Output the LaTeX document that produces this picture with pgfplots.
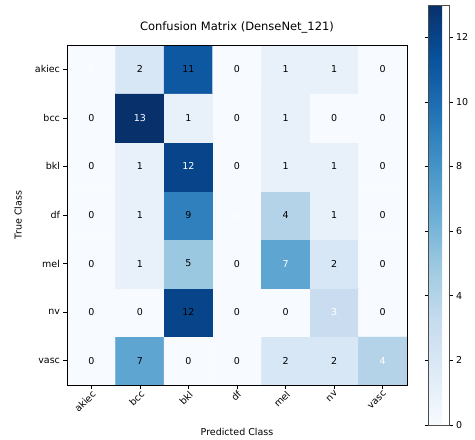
\documentclass[border=0pt]{standalone}
\usepackage{pgfplots}
\pgfplotsset{compat=1.18}
\usepackage{pgfplotstable}
\usepackage{fontspec}
\setmainfont{DejaVu Sans}

% rows: true class (akiec at y=6 ... vasc at y=0), x: predicted class
\pgfplotstableread{
x y c
0 0 0
1 0 7
2 0 0
3 0 0
4 0 2
5 0 2
6 0 4
0 1 0
1 1 0
2 1 12
3 1 0
4 1 0
5 1 3
6 1 0
0 2 0
1 2 1
2 2 5
3 2 0
4 2 7
5 2 2
6 2 0
0 3 0
1 3 1
2 3 9
3 3 0
4 3 4
5 3 1
6 3 0
0 4 0
1 4 1
2 4 12
3 4 0
4 4 1
5 4 1
6 4 0
0 5 0
1 5 13
2 5 1
3 5 0
4 5 1
5 5 0
6 5 0
0 6 0
1 6 2
2 6 11
3 6 0
4 6 1
5 6 1
6 6 0
}\cm

\pgfplotstableread{
x y c
0 6 0
1 5 13
2 4 12
3 3 0
4 2 7
5 1 3
6 0 4
}\diag

\pgfplotstableread{
x y c
1 0 7
2 0 0
3 0 0
4 0 2
5 0 2
0 0 0
0 1 0
1 1 0
2 1 12
3 1 0
4 1 0
6 1 0
0 2 0
1 2 1
2 2 5
3 2 0
5 2 2
6 2 0
0 3 0
1 3 1
2 3 9
4 3 4
5 3 1
6 3 0
0 4 0
1 4 1
3 4 0
4 4 1
5 4 1
6 4 0
0 5 0
2 5 1
3 5 0
4 5 1
5 5 0
6 5 0
1 6 2
2 6 11
3 6 0
4 6 1
5 6 1
6 6 0
}\offdiag

\begin{document}
\begin{tikzpicture}
\useasboundingbox (-67pt,-55pt) rectangle (408pt,385pt);
\begin{axis}[
  at={(0pt,0pt)}, anchor=south west,
  scale only axis, width=340pt, height=340pt,
  axis on top,
  xmin=-0.5, xmax=6.5, ymin=-0.5, ymax=6.5,
  xtick={0,...,6}, ytick={0,...,6},
  xticklabels={akiec,bcc,bkl,df,mel,nv,vasc},
  yticklabels={vasc,nv,mel,df,bkl,bcc,akiec},
  x tick label style={rotate=45, anchor=north east, inner sep=1pt, font=\fontsize{9.5}{11}\selectfont},
  y tick label style={font=\fontsize{9.5}{11}\selectfont},
  tick align=outside, tick pos=left, major tick length=3.5pt,
  tick style={black, line width=0.6pt},
  axis line style={black, line width=0.8pt},
  title={Confusion Matrix (DenseNet\_121)},
  title style={font=\fontsize{11.5}{13}\selectfont, at={(axis description cs:0.5,1.035)}, anchor=center},
  xlabel={Predicted Class}, ylabel={True Class},
  xlabel style={at={(axis description cs:0.5,-0.138)}, anchor=center},
  ylabel style={at={(axis description cs:-0.144,0.5)}, anchor=center},
  label style={font=\fontsize{9.5}{11}\selectfont},
  colormap={blues}{rgb255(0)=(247,251,255) rgb255(1)=(222,235,247) rgb255(2)=(198,219,239) rgb255(3)=(158,202,225) rgb255(4)=(107,174,214) rgb255(5)=(66,146,198) rgb255(6)=(33,113,181) rgb255(7)=(8,81,156) rgb255(8)=(8,48,107)},
  point meta min=0, point meta max=13,
  colorbar,
  colorbar shift/.style={},
  colorbar style={
    at={(361pt,-40pt)}, anchor=south west, xshift=0pt,
    scale only axis, width=21pt, height=420pt,
    ytick={0,2,...,12},
    yticklabel style={font=\fontsize{9.5}{11}\selectfont},
    /pgf/number format/assume math mode=true,
    tick align=outside, major tick length=3.5pt,
    tick style={black, line width=0.6pt},
    axis line style={black!70, line width=0.8pt},
  },
]
\addplot[matrix plot*, mesh/cols=7, point meta=explicit] table[x=x, y=y, meta=c] {\cm};
\addplot[draw=none, mark=none, nodes near coords, point meta=explicit symbolic,
  nodes near coords align=center,
  every node near coord/.append style={font=\fontsize{9.5}{11}\selectfont, text=black, anchor=center}]
  table[x=x, y=y, meta=c] {\offdiag};
\addplot[draw=none, mark=none, nodes near coords, point meta=explicit symbolic,
  nodes near coords align=center,
  every node near coord/.append style={font=\fontsize{9.5}{11}\selectfont, text=white, anchor=center}]
  table[x=x, y=y, meta=c] {\diag};
\end{axis}
\end{tikzpicture}
\end{document}
